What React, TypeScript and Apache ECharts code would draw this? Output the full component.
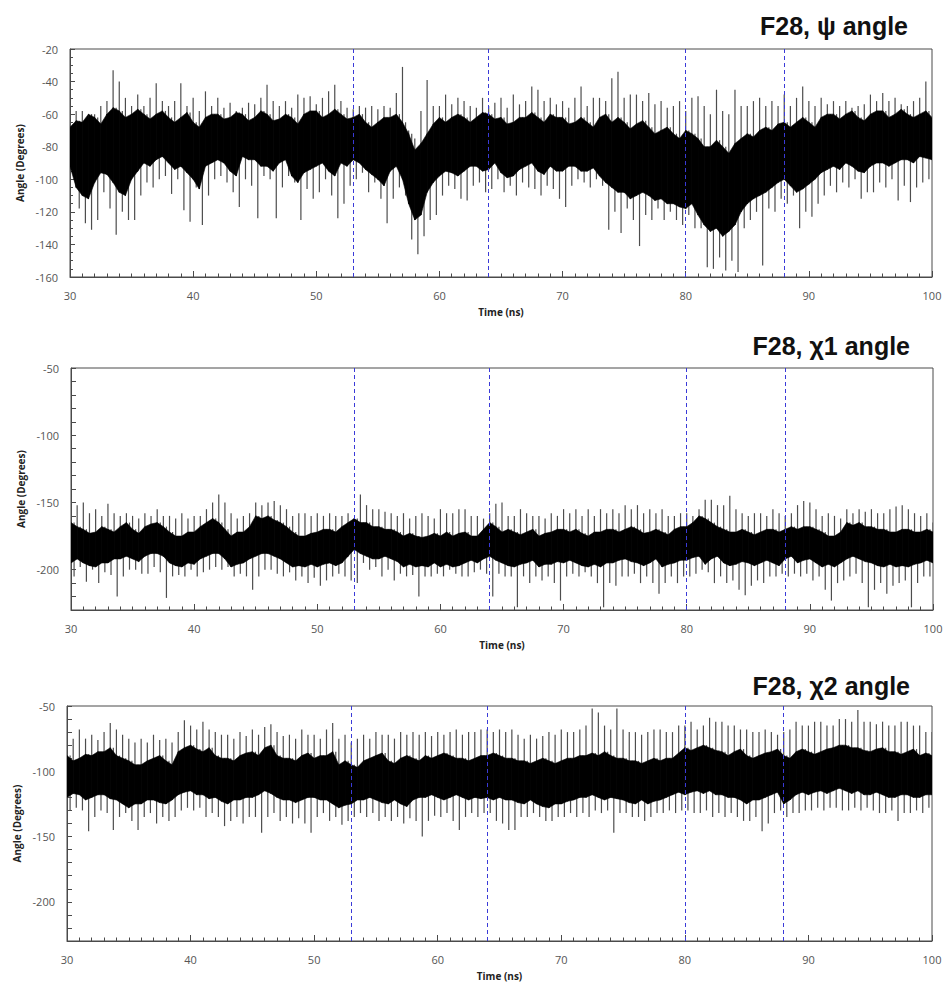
import React, { useEffect, useRef } from "react";
import * as echarts from "echarts";

// ---------------- DATA ----------------
const START_NS = 30; // first sample time (ns)
const STEP_NS = 0.5; // samples every 0.5 ns
const transitionTimesNs = [53, 64, 80, 88];
const panelTitles = ["F28, \u03c8 angle", "F28, \u03c71 angle", "F28, \u03c72 angle"];
const xAxisTitle = "Time (ns)";
const yAxisTitle = "Angle (Degrees)";

// Panel 1: psi angle — upward excursions (t = 30, 30.5, ... 100)
const psiHigh = [
  -50, -58, -58, -62, -60, -55, -52, -33, -40, -50,
  -55, -48, -55, -50, -41, -52, -55, -52, -41, -55,
  -50, -58, -46, -55, -50, -56, -53, -58, -56, -53,
  -54, -50, -42, -52, -55, -52, -56, -48, -50, -49,
  -54, -50, -46, -42, -52, -56, -57, -55, -56, -55,
  -57, -55, -56, -47, -31, -70, -75, -58, -39, -55,
  -55, -48, -54, -50, -52, -55, -56, -50, -55, -53,
  -50, -56, -48, -54, -52, -43, -45, -52, -50, -54,
  -52, -56, -50, -43, -55, -50, -50, -52, -38, -34,
  -50, -48, -48, -52, -47, -54, -52, -56, -55, -52,
  -58, -50, -49, -55, -60, -45, -58, -60, -45, -55,
  -55, -52, -50, -55, -52, -55, -48, -55, -50, -43,
  -52, -55, -50, -54, -52, -55, -52, -56, -55, -54,
  -48, -52, -47, -52, -50, -54, -55, -52, -50, -40,
  -62,
];
// Panel 1: downward excursions (t = 30.25, 30.75, ... 99.75)
const psiLow = [
  -95, -118, -127, -131, -125, -108, -118, -134, -120, -125,
  -125, -110, -102, -105, -100, -98, -109, -100, -119, -126,
  -105, -128, -110, -100, -98, -102, -108, -117, -100, -104,
  -124, -98, -100, -124, -105, -98, -102, -125, -106, -112,
  -108, -100, -110, -124, -115, -104, -100, -96, -108, -102,
  -112, -127, -112, -105, -110, -137, -146, -135, -125, -122,
  -110, -104, -106, -112, -113, -104, -102, -108, -106, -100,
  -108, -104, -110, -102, -105, -106, -110, -104, -106, -112,
  -117, -104, -100, -102, -105, -100, -104, -131, -120, -133,
  -118, -125, -141, -122, -125, -118, -125, -120, -125, -128,
  -122, -130, -130, -154, -155, -148, -156, -150, -157, -130,
  -125, -120, -153, -118, -120, -112, -115, -110, -130, -120,
  -123, -115, -110, -104, -108, -102, -105, -100, -112, -108,
  -108, -102, -105, -100, -113, -104, -114, -105, -102, -100,
];
// Panel 1: dense core band edges (t = 30, 30.5, ... 100)
const psiBandTop = [
  -68, -64, -65, -60, -62, -66, -60, -56, -58, -62,
  -60, -57, -60, -63, -60, -58, -62, -65, -62, -59,
  -65, -68, -62, -60, -60, -63, -62, -59, -60, -64,
  -62, -58, -60, -64, -63, -60, -62, -66, -60, -58,
  -58, -62, -60, -57, -60, -63, -62, -60, -65, -68,
  -65, -62, -62, -60, -65, -72, -82, -78, -72, -66,
  -62, -65, -62, -60, -62, -65, -62, -59, -60, -63,
  -62, -66, -65, -62, -62, -59, -62, -65, -60, -62,
  -62, -66, -65, -62, -65, -68, -62, -60, -65, -62,
  -65, -69, -66, -64, -68, -72, -70, -68, -72, -75,
  -70, -72, -75, -80, -80, -76, -80, -84, -78, -75,
  -72, -74, -70, -68, -70, -66, -65, -68, -65, -62,
  -65, -68, -62, -60, -60, -63, -60, -58, -62, -64,
  -60, -58, -58, -62, -60, -57, -60, -62, -60, -58,
  -62,
];
const psiBandBottom = [
  -92, -105, -110, -112, -102, -96, -97, -102, -108, -110,
  -100, -95, -90, -92, -88, -86, -90, -94, -92, -96,
  -100, -106, -92, -90, -88, -90, -95, -98, -86, -88,
  -88, -92, -92, -95, -90, -88, -98, -102, -96, -94,
  -92, -90, -95, -98, -90, -92, -88, -90, -94, -97,
  -100, -104, -95, -92, -100, -115, -125, -122, -108, -102,
  -98, -95, -96, -98, -95, -92, -92, -95, -94, -90,
  -96, -99, -98, -94, -92, -90, -95, -97, -92, -95,
  -95, -92, -92, -95, -95, -93, -98, -102, -105, -108,
  -108, -112, -110, -108, -110, -113, -112, -115, -115, -117,
  -118, -115, -122, -128, -132, -130, -135, -132, -128, -120,
  -115, -112, -110, -108, -105, -102, -100, -104, -108, -106,
  -103, -100, -96, -94, -92, -94, -90, -92, -95, -96,
  -92, -90, -90, -92, -90, -88, -88, -90, -86, -87,
  -88,
];

// Panel 2: chi1 angle
const chi1High = [
  -146, -152, -150, -158, -155, -160, -151, -158, -160, -158,
  -160, -162, -158, -160, -155, -160, -160, -162, -158, -162,
  -160, -160, -155, -150, -144, -150, -158, -162, -160, -158,
  -150, -152, -150, -149, -152, -155, -160, -158, -158, -160,
  -158, -160, -158, -160, -160, -158, -162, -144, -152, -155,
  -155, -157, -158, -160, -158, -162, -160, -158, -160, -162,
  -155, -158, -158, -155, -155, -160, -160, -162, -158, -151,
  -150, -160, -160, -155, -158, -160, -160, -162, -158, -160,
  -155, -158, -155, -160, -155, -160, -155, -158, -155, -158,
  -152, -155, -152, -158, -155, -158, -155, -160, -160, -158,
  -158, -160, -155, -148, -148, -152, -152, -145, -155, -158,
  -160, -158, -158, -160, -155, -158, -160, -158, -152, -149,
  -150, -155, -160, -158, -160, -162, -155, -158, -155, -157,
  -155, -158, -158, -155, -153, -152, -155, -158, -160, -158,
  -165,
];
const chi1Low = [
  -205, -198, -209, -200, -210, -202, -204, -220, -205, -200,
  -200, -203, -203, -198, -202, -221, -205, -204, -205, -200,
  -205, -202, -200, -198, -200, -198, -205, -203, -205, -215,
  -205, -200, -200, -203, -205, -202, -208, -205, -210, -206,
  -212, -208, -205, -203, -205, -208, -210, -195, -200, -198,
  -205, -200, -208, -203, -205, -204, -220, -205, -205, -203,
  -205, -200, -203, -205, -205, -202, -200, -203, -220, -203,
  -205, -205, -228, -205, -210, -205, -208, -205, -210, -223,
  -205, -203, -205, -202, -205, -210, -228, -210, -212, -205,
  -205, -203, -210, -205, -210, -218, -210, -205, -210, -205,
  -205, -203, -200, -202, -210, -205, -210, -208, -215, -219,
  -212, -208, -210, -205, -205, -203, -205, -203, -205, -203,
  -208, -205, -215, -223, -210, -208, -205, -203, -210, -228,
  -215, -210, -218, -212, -210, -208, -228, -210, -205, -205,
];
const chi1BandTop = [
  -165, -168, -170, -173, -172, -168, -170, -172, -168, -165,
  -170, -173, -168, -166, -165, -168, -172, -175, -175, -172,
  -172, -168, -165, -162, -165, -170, -175, -172, -172, -168,
  -160, -162, -160, -163, -165, -168, -172, -175, -175, -173,
  -172, -170, -170, -172, -168, -165, -162, -165, -165, -168,
  -168, -170, -170, -172, -175, -173, -175, -176, -175, -173,
  -175, -172, -175, -173, -172, -175, -175, -170, -165, -168,
  -172, -170, -172, -174, -172, -170, -175, -173, -172, -170,
  -170, -172, -170, -173, -175, -172, -172, -170, -170, -172,
  -170, -168, -170, -173, -172, -170, -172, -174, -170, -168,
  -168, -165, -160, -162, -165, -168, -170, -172, -172, -170,
  -172, -174, -172, -170, -170, -172, -170, -168, -170, -168,
  -168, -170, -172, -175, -175, -172, -165, -167, -165, -168,
  -168, -170, -170, -172, -172, -170, -170, -172, -172, -170,
  -172,
];
const chi1BandBottom = [
  -195, -192, -195, -197, -198, -195, -195, -192, -192, -190,
  -192, -194, -190, -188, -188, -190, -195, -197, -198, -195,
  -196, -192, -190, -188, -188, -192, -198, -196, -195, -192,
  -190, -188, -188, -190, -192, -195, -198, -197, -198, -196,
  -198, -196, -195, -197, -195, -190, -185, -188, -190, -192,
  -192, -190, -192, -194, -198, -196, -198, -197, -198, -195,
  -198, -196, -198, -197, -195, -193, -195, -192, -190, -193,
  -195, -197, -198, -196, -195, -193, -198, -196, -196, -194,
  -195, -193, -195, -197, -198, -196, -198, -195, -195, -193,
  -192, -194, -195, -197, -195, -192, -198, -196, -195, -193,
  -193, -191, -190, -196, -192, -190, -195, -197, -196, -194,
  -195, -197, -195, -193, -195, -197, -192, -190, -195, -193,
  -192, -195, -198, -196, -198, -195, -192, -190, -192, -194,
  -195, -197, -198, -196, -198, -197, -198, -196, -195, -193,
  -195,
];

// Panel 3: chi2 angle
const chi2High = [
  -72, -75, -68, -75, -72, -76, -70, -63, -68, -72,
  -75, -78, -75, -78, -72, -76, -75, -78, -70, -61,
  -65, -68, -62, -68, -70, -72, -72, -75, -70, -73,
  -68, -72, -66, -64, -70, -73, -72, -75, -68, -72,
  -72, -75, -68, -63, -75, -72, -78, -75, -72, -75,
  -70, -72, -72, -75, -70, -72, -70, -72, -70, -73,
  -70, -72, -70, -68, -72, -70, -70, -68, -68, -70,
  -68, -70, -68, -72, -75, -72, -75, -73, -70, -72,
  -68, -70, -70, -68, -65, -52, -55, -65, -68, -52,
  -68, -70, -70, -72, -70, -68, -68, -70, -70, -65,
  -65, -62, -68, -65, -59, -62, -62, -65, -65, -68,
  -68, -70, -70, -68, -70, -72, -70, -68, -62, -65,
  -65, -62, -62, -65, -65, -60, -60, -62, -53, -62,
  -62, -64, -62, -65, -65, -62, -62, -65, -65, -70,
  -70,
];
const chi2Low = [
  -130, -128, -130, -146, -135, -130, -132, -145, -135, -132,
  -138, -145, -135, -132, -140, -135, -138, -135, -130, -128,
  -130, -128, -135, -132, -135, -142, -138, -135, -140, -135,
  -135, -147, -135, -132, -138, -135, -140, -136, -140, -147,
  -135, -132, -138, -135, -141, -138, -135, -132, -135, -132,
  -138, -135, -138, -135, -140, -136, -138, -150, -138, -134,
  -135, -132, -138, -145, -135, -132, -135, -132, -132, -138,
  -140, -145, -145, -135, -135, -132, -135, -138, -138, -135,
  -135, -132, -135, -132, -135, -130, -132, -130, -147, -132,
  -132, -135, -135, -138, -135, -132, -132, -130, -132, -130,
  -130, -132, -132, -130, -135, -132, -135, -132, -135, -138,
  -138, -135, -146, -140, -132, -130, -135, -132, -132, -130,
  -130, -128, -130, -128, -128, -130, -130, -128, -130, -128,
  -130, -132, -132, -130, -138, -132, -132, -130, -132, -128,
];
const chi2BandTop = [
  -88, -92, -90, -87, -88, -85, -85, -82, -88, -90,
  -92, -95, -95, -92, -90, -88, -92, -95, -85, -82,
  -80, -83, -85, -82, -88, -90, -90, -92, -88, -86,
  -85, -88, -82, -80, -88, -90, -90, -92, -88, -86,
  -90, -88, -88, -85, -95, -92, -95, -97, -92, -90,
  -88, -86, -92, -94, -90, -88, -90, -92, -88, -90,
  -88, -86, -88, -90, -90, -92, -90, -88, -88, -86,
  -88, -90, -90, -92, -92, -94, -92, -90, -92, -94,
  -92, -90, -90, -88, -88, -86, -88, -85, -88, -90,
  -90, -92, -92, -94, -92, -90, -92, -90, -90, -86,
  -82, -84, -82, -80, -82, -84, -85, -88, -85, -83,
  -88, -90, -88, -86, -85, -83, -88, -90, -85, -83,
  -85, -87, -85, -83, -82, -80, -80, -82, -82, -84,
  -85, -83, -82, -85, -85, -87, -85, -83, -88, -86,
  -88,
];
const chi2BandBottom = [
  -120, -117, -118, -122, -120, -118, -118, -121, -122, -125,
  -128, -125, -125, -122, -122, -124, -125, -122, -118, -116,
  -115, -118, -118, -121, -120, -123, -125, -122, -122, -120,
  -120, -118, -115, -117, -120, -122, -122, -124, -122, -120,
  -120, -122, -122, -125, -128, -126, -125, -122, -122, -120,
  -122, -124, -125, -122, -125, -127, -122, -120, -120, -118,
  -120, -122, -120, -118, -120, -122, -120, -121, -120, -122,
  -120, -122, -122, -124, -125, -122, -125, -127, -128, -125,
  -125, -123, -122, -120, -120, -118, -120, -122, -120, -121,
  -122, -124, -125, -122, -125, -123, -122, -120, -118, -116,
  -118, -116, -115, -117, -115, -118, -118, -120, -120, -122,
  -125, -122, -122, -120, -118, -116, -125, -122, -118, -116,
  -118, -116, -115, -117, -115, -113, -115, -117, -115, -118,
  -118, -116, -118, -120, -120, -118, -118, -120, -120, -118,
  -118,
];

// ---------------- LAYOUT / STYLE ----------------
const layouts = [
  { left: 70, top: 49, width: 862, height: 228, yMin: -160, yMax: -20, yStep: 20, yLabelEvery: 20, yMinor: 4, titleRight: 38, titleTop: 13, yNameGap: 37 },
  { left: 71, top: 368, width: 862, height: 242, yMin: -230, yMax: -50, yStep: 10, yLabelEvery: 50, yMinor: 0, titleRight: 36, titleTop: 333, yNameGap: 36 },
  { left: 67, top: 706, width: 865, height: 235, yMin: -230, yMax: -50, yStep: 10, yLabelEvery: 50, yMinor: 0, titleRight: 36, titleTop: 673, yNameGap: 37 },
];

const panels = [
  { high: psiHigh, low: psiLow, top: psiBandTop, bottom: psiBandBottom },
  { high: chi1High, low: chi1Low, top: chi1BandTop, bottom: chi1BandBottom },
  { high: chi2High, low: chi2Low, top: chi2BandTop, bottom: chi2BandBottom },
];

const AXIS_COLOR = "#4a4a4a";
const LABEL_FONT = '"Open Sans", "DejaVu Sans", sans-serif';
const TITLE_FONT = '"Liberation Sans", Arial, sans-serif';

function buildOption() {
  const grid = layouts.map((l) => ({
    left: l.left,
    top: l.top,
    width: l.width,
    height: l.height,
    show: true,
    borderColor: AXIS_COLOR,
    borderWidth: 1,
    backgroundColor: "transparent",
  }));

  const xAxis = layouts.map((l, k) => ({
    gridIndex: k,
    type: "value",
    min: 30,
    max: 100,
    interval: 10,
    axisLine: { show: true, onZero: false, lineStyle: { color: AXIS_COLOR, width: 1 } },
    axisTick: { show: true, inside: true, length: 6, lineStyle: { color: AXIS_COLOR } },
    minorTick: { show: true, splitNumber: 10, length: 3.5, lineStyle: { color: AXIS_COLOR } },
    splitLine: { show: false },
    minorSplitLine: { show: false },
    axisLabel: { color: "#555", fontSize: 11, margin: 13, fontFamily: LABEL_FONT },
    name: xAxisTitle,
    nameLocation: "middle",
    nameGap: 30,
    nameTextStyle: { fontWeight: "bold", fontSize: 10, color: "#222", fontFamily: LABEL_FONT },
  }));

  const yAxis = layouts.map((l, k) => ({
    gridIndex: k,
    type: "value",
    min: l.yMin,
    max: l.yMax,
    interval: l.yStep,
    axisLine: { show: true, onZero: false, lineStyle: { color: AXIS_COLOR, width: 1 } },
    axisTick: { show: true, inside: true, length: 5, lineStyle: { color: AXIS_COLOR } },
    minorTick: { show: l.yMinor > 0, splitNumber: l.yMinor || 5, length: 3, lineStyle: { color: AXIS_COLOR } },
    splitLine: { show: false },
    minorSplitLine: { show: false },
    axisLabel: {
      color: "#555",
      fontSize: 11,
      margin: 12,
      fontFamily: LABEL_FONT,
      formatter: (v: number) => (Math.round(v) % l.yLabelEvery === 0 ? String(Math.round(v)) : ""),
    },
    name: yAxisTitle,
    nameLocation: "middle",
    nameGap: l.yNameGap,
    nameRotate: 90,
    nameTextStyle: { fontWeight: "bold", fontSize: 10, color: "#222", fontFamily: LABEL_FONT },
  }));

  const series: any[] = [];
  panels.forEach((p, k) => {
    // spikes: vertical strokes from each excursion into the core band
    const spikeRows: number[][] = [];
    p.high.forEach((v, i) => spikeRows.push([START_NS + i * STEP_NS, v, p.bottom[i]]));
    p.low.forEach((v, i) => spikeRows.push([START_NS + i * STEP_NS + STEP_NS / 2, v, p.top[i]]));
    series.push({
      type: "custom",
      xAxisIndex: k,
      yAxisIndex: k,
      data: spikeRows,
      encode: { x: 0, y: [1, 2] },
      silent: true,
      clip: true,
      z: 2,
      renderItem: (params: any, api: any) => {
        const a = api.coord([api.value(0), api.value(1)]);
        const b = api.coord([api.value(0), api.value(2)]);
        return {
          type: "line",
          shape: { x1: a[0], y1: a[1], x2: b[0], y2: b[1] },
          style: { stroke: "#4d4d4d", lineWidth: 1.2 },
        };
      },
    });

    // dense core band: a quad between consecutive band samples
    const bandRows = p.top.map((v, i) => [START_NS + i * STEP_NS, v, p.bottom[i]]);
    series.push({
      type: "custom",
      xAxisIndex: k,
      yAxisIndex: k,
      data: bandRows,
      encode: { x: 0, y: [1, 2] },
      silent: true,
      clip: true,
      z: 3,
      renderItem: (params: any, api: any) => {
        const i = params.dataIndex;
        if (i >= bandRows.length - 1) return null;
        const a = bandRows[i];
        const b = bandRows[i + 1];
        const pts = [
          api.coord([a[0], a[1]]),
          api.coord([b[0], b[1]]),
          api.coord([b[0], b[2]]),
          api.coord([a[0], a[2]]),
        ];
        return {
          type: "polygon",
          shape: { points: pts },
          style: { fill: "#000", stroke: "#000", lineWidth: 0.6 },
        };
      },
    });

    // dashed transition markers
    series.push({
      type: "line",
      xAxisIndex: k,
      yAxisIndex: k,
      data: [],
      symbol: "none",
      silent: true,
      z: 5,
      markLine: {
        silent: true,
        symbol: ["none", "none"],
        label: { show: false },
        lineStyle: { type: [4, 3], color: "#3a3ad8", width: 1, opacity: 1 },
        emphasis: { disabled: true },
        data: transitionTimesNs.map((t) => ({ xAxis: t })),
      },
    });
  });

  const graphic = layouts.map((l, k) => ({
    type: "text",
    right: l.titleRight,
    top: l.titleTop,
    style: {
      text: panelTitles[k],
      fontSize: 25,
      fontWeight: "bold",
      fontFamily: TITLE_FONT,
      fill: "#111",
    },
  }));

  return {
    animation: false,
    backgroundColor: "#ffffff",
    grid,
    xAxis,
    yAxis,
    series,
    graphic,
  };
}

export default function App() {
  const ref = useRef<HTMLDivElement>(null);
  useEffect(() => {
    if (!ref.current) return;
    const chart = echarts.init(ref.current, undefined, { renderer: "svg" });
    chart.setOption(buildOption() as any);
    return () => chart.dispose();
  }, []);
  return (
    <div
      ref={ref}
      style={{ position: "absolute", left: 0, top: 0, width: 946, height: 985, background: "#fff" }}
    />
  );
}
